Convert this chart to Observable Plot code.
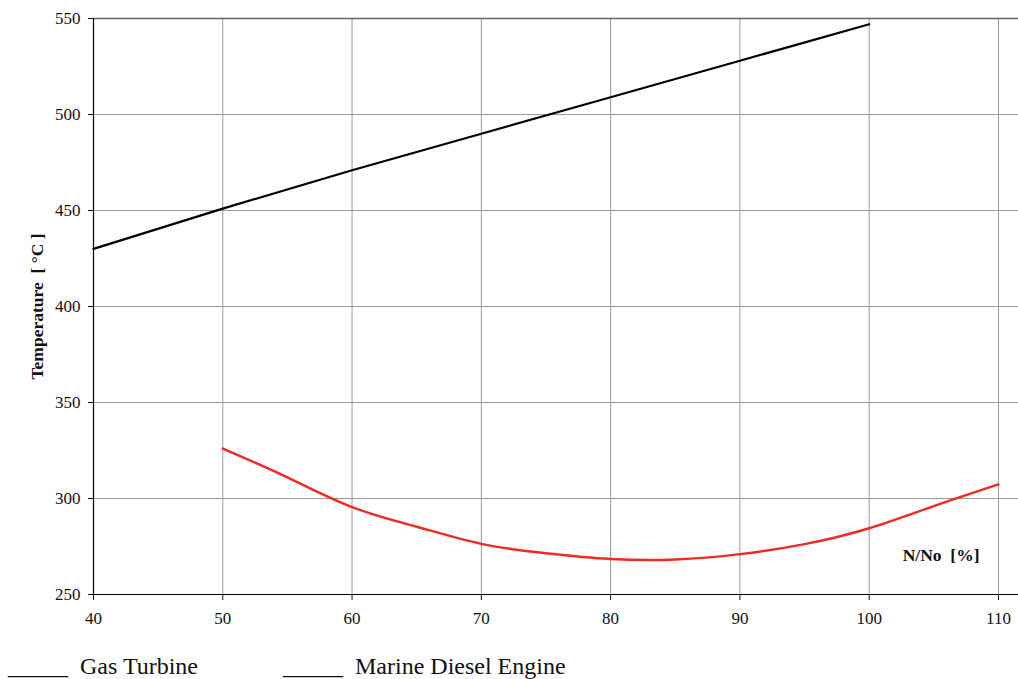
<!DOCTYPE html>
<html>
<head>
<meta charset="utf-8">
<script src="https://cdn.jsdelivr.net/npm/d3@7"></script>
<script src="https://cdn.jsdelivr.net/npm/@observablehq/plot@0.6"></script>
<style>
  html, body { margin: 0; padding: 0; background: #fff; }
  #chart { position: relative; width: 1018px; }
  #legend { position: relative; height: 39px; font-family: "Liberation Serif", serif; font-size: 24px; color: #111; }
  #legend span { position: absolute; top: 13px; white-space: pre; }
</style>
</head>
<body>
<div id="chart"></div>
<div id="legend"><span style="left:8px">_____  Gas Turbine</span><span style="left:283px">_____  Marine Diesel Engine</span></div>
<script>
// Data
const gasTurbineX = [40, 50, 60, 70, 80, 90, 100];
const gasTurbineY = [430, 451, 471, 490, 509, 528, 547];

const dieselX = [50, 55, 60, 65, 70, 75, 80, 85, 90, 95, 100, 105, 110];
const dieselY = [326, 311, 295.5, 285.3, 276.4, 271.5, 268.5, 268.2, 271, 276.2, 284.5, 296, 307.3];

const xTicks = [40, 50, 60, 70, 80, 90, 100, 110];
const yTicks = [250, 300, 350, 400, 450, 500, 550];

const yLabel = "Temperature  [ \u00B0C ]";
const xLabel = "N/No  [%]";

const gas = gasTurbineX.map((x, i) => ({x, y: gasTurbineY[i]}));
const diesel = dieselX.map((x, i) => ({x, y: dieselY[i]}));

const font = "Liberation Serif, serif";

const chart = Plot.plot({
  width: 1018,
  height: 640,
  marginLeft: 93,
  marginRight: 0,
  marginTop: 18,
  marginBottom: 46,
  style: { fontFamily: font, fontSize: "17px", color: "#111", background: "#fff" },
  x: { domain: [40, 111.55], ticks: xTicks },
  y: { domain: [250, 550], ticks: yTicks },
  marks: [
    Plot.gridX(xTicks, { stroke: "#9a9a9a", strokeOpacity: 1, strokeWidth: 1 }),
    Plot.gridY(yTicks, { stroke: "#9a9a9a", strokeOpacity: 1, strokeWidth: 1 }),
    Plot.ruleY([550], { stroke: "#666", strokeWidth: 1.5 }),
    Plot.axisX({ ticks: xTicks, tickSize: 6, tickPadding: 11, label: null, fontSize: 17 }),
    Plot.axisY({ ticks: yTicks, tickSize: 5, tickPadding: 8, label: null, fontSize: 17 }),
    Plot.ruleX([40], { stroke: "#000", strokeWidth: 1.2 }),
    Plot.ruleY([250], { stroke: "#000", strokeWidth: 1.2 }),
    Plot.line(gas, { x: "x", y: "y", stroke: "#000", strokeWidth: 2.2 }),
    Plot.line(diesel, { x: "x", y: "y", stroke: "#ee2a24", strokeWidth: 2.4, curve: "natural" }),
    Plot.text([yLabel], { frameAnchor: "left", dx: -56, dy: 0, rotate: -90, textAnchor: "middle", text: d => d, fontWeight: "bold", fontSize: 17.5, fill: "#111" }),
    Plot.text([xLabel], { frameAnchor: "bottom-right", dx: -39, dy: -34, textAnchor: "end", text: d => d, fontWeight: "bold", fontSize: 17.5, fill: "#111" })
  ]
});
document.getElementById("chart").appendChild(chart);
</script>
</body>
</html>
